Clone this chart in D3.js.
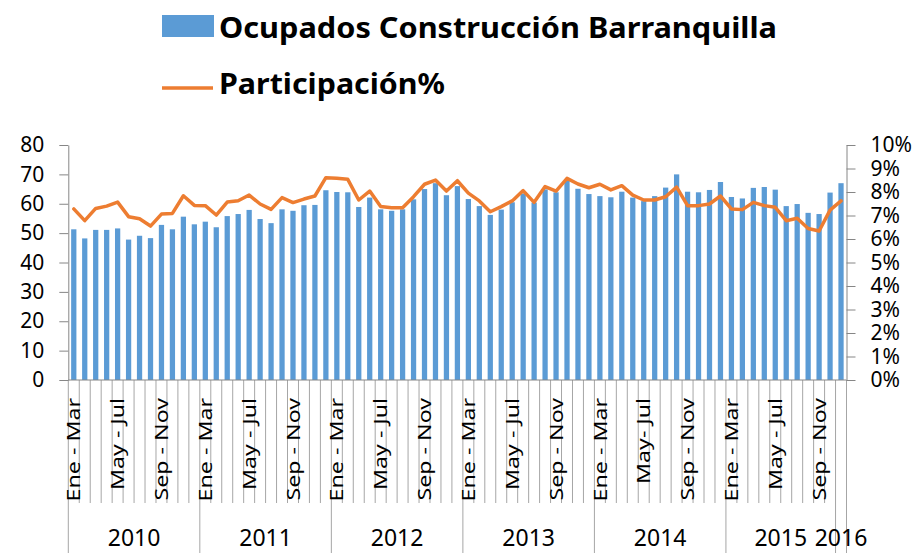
<!DOCTYPE html>
<html>
<head>
<meta charset="utf-8">
<script src="https://cdn.jsdelivr.net/npm/d3@7"></script>
<style>
  body { margin: 0; background: #fff; }
  svg text { font-family: "Noto Sans", "Open Sans", sans-serif; fill: #000; }
  .axis path, .axis line { stroke: #868686; }
  .axis text { font-size: 21px; }
</style>
</head>
<body>
<svg id="chart" width="920" height="553"></svg>
<script>
// rolling quarters, repeated each year
var periodos = ["Ene - Mar", "Feb - Abr", "Mar - May", "Abr - Jun", "May - Jul", "Jun - Ago",
                "Jul - Sep", "Ago - Oct", "Sep - Nov", "Oct - Dic", "Nov - Ene", "Dic - Feb"];
var anios = ["2010", "2011", "2012", "2013", "2014", "2015", "2016"];
var periodosPorAnio = [12, 12, 12, 12, 12, 10, 1];

// thousands of employed people in construction
var ocupados = [
  51.3, 48.2, 51.1, 51.1, 51.6, 47.8, 49.1, 48.3, 52.8, 51.3, 55.6, 53.0,
  53.9, 52.0, 55.8, 56.5, 57.9, 54.8, 53.4, 58.1, 57.6, 59.5, 59.6, 64.6,
  64.0, 63.9, 58.9, 62.1, 58.1, 57.6, 58.1, 61.5, 65.0, 67.0, 62.9, 66.0,
  61.6, 59.2, 56.2, 58.0, 60.5, 63.5, 60.4, 64.9, 63.9, 68.1, 65.1, 63.3,
  62.6, 62.2, 64.1, 62.1, 60.9, 62.6, 65.5, 70.0, 64.1, 63.9, 64.7, 67.4,
  62.3, 61.8, 65.4, 65.7, 64.8, 59.2, 59.9, 56.9, 56.5, 63.8, 67.0
];

// share of construction in total employment (%)
var participacion = [
  7.28, 6.78, 7.30, 7.40, 7.57, 6.95, 6.86, 6.55, 7.06, 7.09, 7.84, 7.43,
  7.42, 7.02, 7.57, 7.63, 7.87, 7.49, 7.26, 7.76, 7.55, 7.70, 7.83, 8.61,
  8.58, 8.54, 7.66, 8.04, 7.38, 7.33, 7.33, 7.80, 8.33, 8.51, 8.04, 8.48,
  7.95, 7.62, 7.16, 7.38, 7.62, 8.06, 7.56, 8.23, 8.04, 8.58, 8.34, 8.18,
  8.33, 8.09, 8.27, 7.87, 7.66, 7.66, 7.80, 8.21, 7.42, 7.42, 7.49, 7.83,
  7.28, 7.25, 7.56, 7.42, 7.35, 6.78, 6.88, 6.45, 6.34, 7.23, 7.62
];

var ticksIzq = [0, 10, 20, 30, 40, 50, 60, 70, 80];
var ticksDer = [0, 0.01, 0.02, 0.03, 0.04, 0.05, 0.06, 0.07, 0.08, 0.09, 0.10];

// build the category list (2015 ends at Oct - Dic, 2016 starts at Nov - Ene)
var categorias = [];
var grupos = [];
anios.forEach(function (a, k) {
    var ini = categorias.length;
    var start = (a == "2016") ? 10 : 0;
    for (var j = 0; j < periodosPorAnio[k]; j++) {
        var lbl = periodos[start + j];
        if (a == "2014" && lbl == "May - Jul") lbl = "May- Jul";
        categorias.push({ anio: a, label: lbl });
    }
    grupos.push({ anio: a, ini: ini, fin: categorias.length });
});

var svg = d3.select("#chart");
var plotLeft = 68.3, plotRight = 846.5, plotTop = 145, plotBottom = 380;

var idx = d3.range(categorias.length);
var slot = d3.scaleBand().domain(idx).range([plotLeft, plotRight]);
var x = d3.scaleBand().domain(idx).range([plotLeft, plotRight])
    .paddingInner(0.52).paddingOuter(0.26);
var yL = d3.scaleLinear().domain([0, 80]).range([plotBottom, plotTop]);
var yR = d3.scaleLinear().domain([0, 0.10]).range([plotBottom, plotTop]);

// bars
svg.append("g").selectAll("rect")
    .data(ocupados)
    .enter().append("rect")
    .attr("x", function (d, i) { return x(i); })
    .attr("y", function (d) { return yL(d); })
    .attr("width", x.bandwidth())
    .attr("height", function (d) { return yL(0) - yL(d); })
    .attr("fill", "#5B9BD5");

// category separators (tall ones between years)
var cortes = d3.range(categorias.length + 1);
var esCorteAnio = {};
grupos.forEach(function (g) { esCorteAnio[g.ini] = true; esCorteAnio[g.fin] = true; });
var xCorte = function (i) { return i < categorias.length ? slot(i) : plotRight; };
svg.append("g").selectAll("line")
    .data(cortes)
    .enter().append("line")
    .attr("x1", xCorte)
    .attr("x2", xCorte)
    .attr("y1", plotBottom)
    .attr("y2", function (i) { return esCorteAnio[i] ? 553 : 503; })
    .attr("stroke", "#a6a6a6")
    .attr("stroke-width", 1);

svg.append("line")
    .attr("x1", plotLeft).attr("x2", plotRight)
    .attr("y1", plotBottom).attr("y2", plotBottom)
    .attr("stroke", "#868686");

// rotated period labels, every 4th one
svg.append("g").selectAll("text")
    .data(idx.filter(function (i) { return i % 4 == 0; }))
    .enter().append("text")
    .attr("transform", function (i) {
        return "translate(" + (slot(i) + slot.bandwidth() / 2) + ",398) rotate(-90) scale(1.22,1)";
    })
    .attr("dy", "0.35em")
    .attr("text-anchor", "end")
    .style("font-size", "19px")
    .text(function (i) { return categorias[i].label; });

// year labels
svg.append("g").selectAll("text")
    .data(grupos)
    .enter().append("text")
    .attr("x", function (g) { return (xCorte(g.ini) + xCorte(g.fin)) / 2; })
    .attr("y", 546)
    .attr("text-anchor", "middle")
    .style("font-size", "23px")
    .text(function (g) { return g.anio; });

// line
var linea = d3.line()
    .x(function (d, i) { return x(i) + x.bandwidth() / 2; })
    .y(function (d) { return yR(d / 100); });

svg.append("path")
    .datum(participacion)
    .attr("d", linea)
    .attr("fill", "none")
    .attr("stroke", "#ED7D31")
    .attr("stroke-width", 3.5)
    .attr("stroke-linejoin", "round")
    .attr("stroke-linecap", "round");

// value axes
svg.append("g")
    .attr("class", "axis")
    .attr("transform", "translate(" + plotLeft + ",0)")
    .call(d3.axisLeft(yL).tickValues(ticksIzq).tickSize(9).tickSizeOuter(0).tickPadding(15));

svg.append("g")
    .attr("class", "axis")
    .attr("transform", "translate(" + plotRight + ",0)")
    .call(d3.axisRight(yR).tickValues(ticksDer).tickFormat(d3.format(".0%"))
        .tickSize(9).tickSizeOuter(0).tickPadding(15));

svg.selectAll(".axis .domain").attr("stroke", "#868686");
svg.selectAll(".axis text").style("font-size", "21px");

// legend
svg.append("rect")
    .attr("x", 162).attr("y", 15)
    .attr("width", 52).attr("height", 22)
    .attr("fill", "#5B9BD5");
svg.append("text")
    .attr("x", 219).attr("y", 37.5)
    .attr("textLength", 558)
    .attr("lengthAdjust", "spacingAndGlyphs")
    .style("font-size", "28px")
    .style("font-weight", "bold")
    .text("Ocupados Construcción Barranquilla");

svg.append("line")
    .attr("x1", 162).attr("x2", 213)
    .attr("y1", 88).attr("y2", 88)
    .attr("stroke", "#ED7D31")
    .attr("stroke-width", 3.5);
svg.append("text")
    .attr("x", 219).attr("y", 94)
    .attr("textLength", 226)
    .attr("lengthAdjust", "spacingAndGlyphs")
    .style("font-size", "28px")
    .style("font-weight", "bold")
    .text("Participación%");
</script>
</body>
</html>
